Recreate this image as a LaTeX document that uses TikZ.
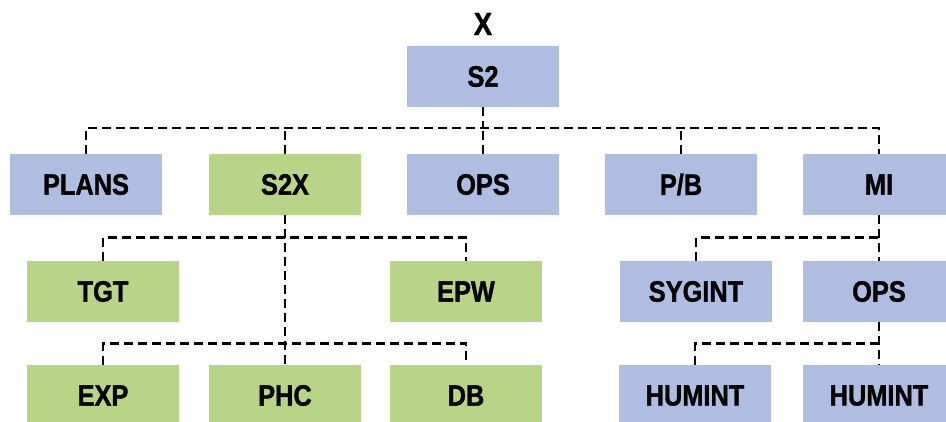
\documentclass[tikz,border=0pt]{standalone}
\usepackage{fontspec}
\setmainfont{Liberation Sans}[FakeStretch=0.86,FakeBold=1.2]
\definecolor{boxblue}{HTML}{AFBDE1}
\definecolor{boxgreen}{HTML}{B8D486}
\begin{document}
\begin{tikzpicture}[x=1pt,y=-1pt,
  unit/.style={minimum width=152pt,minimum height=61pt,inner sep=0pt,
    font=\fontsize{29.5}{32}\selectfont\bfseries},
  blueunit/.style={unit,fill=boxblue},
  greenunit/.style={unit,fill=boxgreen},
  link/.style={draw=black,line width=2.6pt,dash pattern=on 9pt off 5pt}]
\useasboundingbox (0,0) rectangle (946,421);

% title and head unit
\node[font=\fontsize{32}{34}\selectfont\bfseries] (title) at (483,24) {X};
\node[blueunit] (s2) at (483,76.5) {S2};

% second level
\node[blueunit]  (plans) at (86,184.5)  {PLANS};
\node[greenunit] (s2x)   at (285,184.5) {S2X};
\node[blueunit]  (ops)   at (483,184.5) {OPS};
\node[blueunit]  (pb)    at (681,184.5) {P/B};
\node[blueunit]  (mi)    at (879,184.5) {MI};

% third level
\node[greenunit] (tgt)    at (103,291.5) {TGT};
\node[greenunit] (epw)    at (466,291.5) {EPW};
\node[blueunit]  (sygint) at (696,291.5) {SYGINT};
\node[blueunit]  (opsb)   at (879,291.5) {OPS};

% fourth level
\node[greenunit] (exp)     at (103,395.5) {EXP};
\node[greenunit] (phc)     at (285,395.5) {PHC};
\node[greenunit] (db)      at (466,395.5) {DB};
\node[blueunit]  (humintA) at (695,395.5) {HUMINT};
\node[blueunit]  (humintB) at (879,395.5) {HUMINT};

% bus levels
\coordinate (busA) at (0,128);
\coordinate (busB) at (0,237.5);
\coordinate (busC) at (0,343.5);

% S2 to its sections
\draw[link] (s2.south) -- (s2.south |- busA);
\draw[link] (plans.north) -- (plans.north |- busA) -- (mi.north |- busA) -- (mi.north);
\foreach \n in {s2x,ops,pb} \draw[link] (\n.north) -- (\n.north |- busA);

% S2X branch
\draw[link] (s2x.south) -- (phc.north);
\draw[link] (tgt.north) -- (tgt.north |- busB) -- (epw.north |- busB) -- (epw.north);
\draw[link] (exp.north) -- (exp.north |- busC) -- (db.north |- busC) -- (db.north);

% MI branch
\draw[link] (mi.south) -- (opsb.north);
\draw[link] (sygint.north) -- (sygint.north |- busB) -- (mi.south |- busB);
\draw[link] (opsb.south) -- (humintB.north);
\draw[link] (humintA.north) -- (humintA.north |- busC) -- (opsb.south |- busC);
\end{tikzpicture}
\end{document}
